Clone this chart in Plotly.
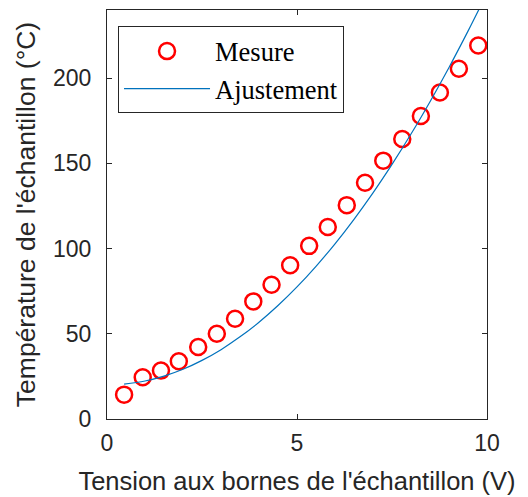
import plotly.graph_objects as go

# Measured points
tension = [0.45, 0.94, 1.42, 1.89, 2.40, 2.89, 3.37, 3.85, 4.33, 4.82,
           5.32, 5.81, 6.31, 6.79, 7.27, 7.77, 8.26, 8.76, 9.26, 9.77]
temperature = [14.3, 24.5, 28.4, 33.9, 42.2, 50.0, 58.8, 69.0, 78.8, 90.2,
               101.6, 112.7, 125.5, 138.6, 151.6, 164.3, 177.8, 191.6, 205.5, 219.2]

# Fitted curve
fit_x = [0.45, 1.0, 1.5, 2.0, 2.5, 3.0, 3.5, 4.0, 4.5, 5.0,
         5.5, 6.0, 6.5, 7.0, 7.5, 8.0, 8.5, 9.0, 9.5, 9.8]
fit_y = [20.5, 22.3, 25.2, 29.2, 34.4, 40.7, 48.2, 56.8, 66.6, 77.5,
         89.6, 102.8, 117.2, 132.7, 149.4, 167.2, 186.2, 206.3, 227.6, 240.9]

x_ticks = [0, 5, 10]
y_ticks = [0, 50, 100, 150, 200]

fig = go.Figure()

fig.add_trace(go.Scatter(x=tension, y=temperature, mode='markers', name='Mesure',
                         marker=dict(symbol='circle-open', size=16, color='#ff0000',
                                     line=dict(width=2.5, color='#ff0000'))))

fig.add_trace(go.Scatter(x=fit_x, y=fit_y, mode='lines', name='Ajustement',
                         line=dict(color='#0072BD', width=1.2, shape='spline')))

axis_style = dict(showline=True, linecolor='#262626', linewidth=1, mirror='ticks',
                  ticks='inside', ticklen=5, tickcolor='#262626', showgrid=False,
                  zeroline=False, tickfont=dict(family='Liberation Sans', size=23, color='#262626'))

# page body has an 8px margin, so the figure is a bit smaller than the window
fig.update_layout(width=520, height=489,
                  margin=dict(l=99, r=41, t=2, b=78),
                  plot_bgcolor='white', paper_bgcolor='white',
                  showlegend=True,
                  legend=dict(x=0.029, y=0.96, xanchor='left', yanchor='top',
                              bgcolor='white', bordercolor='#262626', borderwidth=1,
                              itemwidth=86, tracegroupgap=0,
                              font=dict(family='Liberation Serif', size=26.5, color='#000000')),
                  xaxis=dict(range=[0, 10], tickvals=x_ticks, ticklabelstandoff=3,
                             title=dict(text="Tension aux bornes de l'échantillon (V)",
                                        font=dict(family='Liberation Sans', size=25.5, color='#262626'),
                                        standoff=17),
                             **axis_style),
                  yaxis=dict(range=[0, 240], tickvals=y_ticks, ticklabelstandoff=10,
                             title=dict(text="Température de l'échantillon (°C)",
                                        font=dict(family='Liberation Sans', size=26.5, color='#262626'),
                                        standoff=9),
                             **axis_style))

fig.write_html("out.html")
